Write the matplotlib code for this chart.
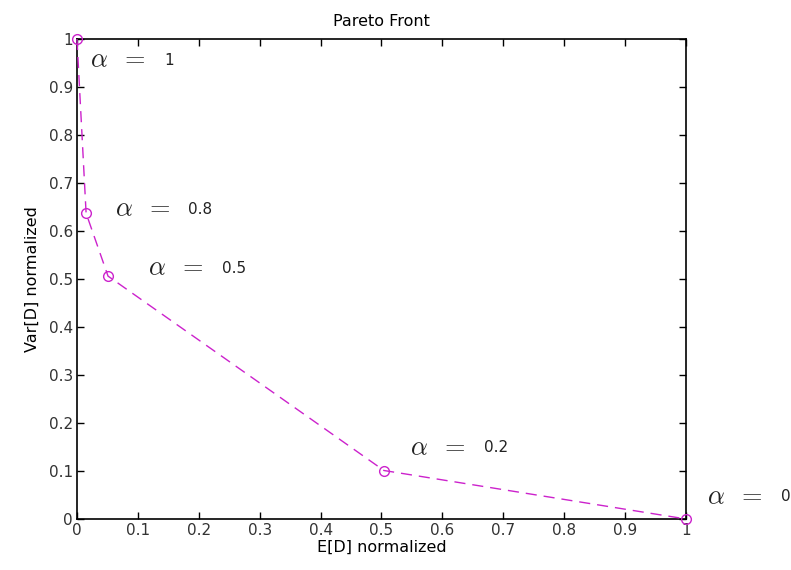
import matplotlib.pyplot as plt

# Pareto front points (normalized)
e_d = [0.0, 0.015, 0.051, 0.504, 1.0]
var_d = [1.0, 0.637, 0.506, 0.101, 0.0]
alphas = ['1', '0.8', '0.5', '0.2', '0']
# label anchor positions (data coords)
lab_x = [0.022, 0.062, 0.117, 0.547, 1.035]
lab_y = [0.955, 0.645, 0.522, 0.148, 0.046]

plt.rcParams['mathtext.fontset'] = 'cm'
fig = plt.figure(figsize=(7.91, 5.70), dpi=100)
ax = fig.add_axes([0.0973, 0.0895, 0.7700, 0.8421])

ax.plot(e_d, var_d, color='#cc22cc', linestyle='--', dashes=(8, 5), linewidth=1.0,
        marker='o', markersize=7, markerfacecolor='none', markeredgecolor='#cc22cc',
        markeredgewidth=1.0, clip_on=False, zorder=3)

for x, y, a in zip(lab_x, lab_y, alphas):
    ax.text(x, y, r'$\alpha\;\;=$', fontsize=19, color='#222222', va='center', ha='left',
            clip_on=False)
    ax.annotate(a, (x, y), xytext=(53, 0), textcoords='offset points', fontsize=11,
                color='#222222', va='center', ha='left', annotation_clip=False)

ax.set_xlim(0, 1)
ax.set_ylim(0, 1)
ticks = [i / 10 for i in range(11)]
ax.set_xticks(ticks)
ax.set_yticks(ticks)
ax.set_xticklabels(['0'] + ['%.1f' % t for t in ticks[1:-1]] + ['1'])
ax.set_yticklabels(['0'] + ['%.1f' % t for t in ticks[1:-1]] + ['1'])
ax.tick_params(direction='in', top=True, right=True, length=5, width=1,
               labelsize=11, labelcolor='#333333', pad=3)
for s in ax.spines.values():
    s.set_linewidth(1.2)

ax.set_title('Pareto Front', fontsize=11.5, pad=9)
ax.set_xlabel('E[D] normalized', fontsize=11.5, labelpad=1)
ax.set_ylabel('Var[D] normalized', fontsize=11.5, labelpad=6)

plt.savefig('out.png', dpi=100)
